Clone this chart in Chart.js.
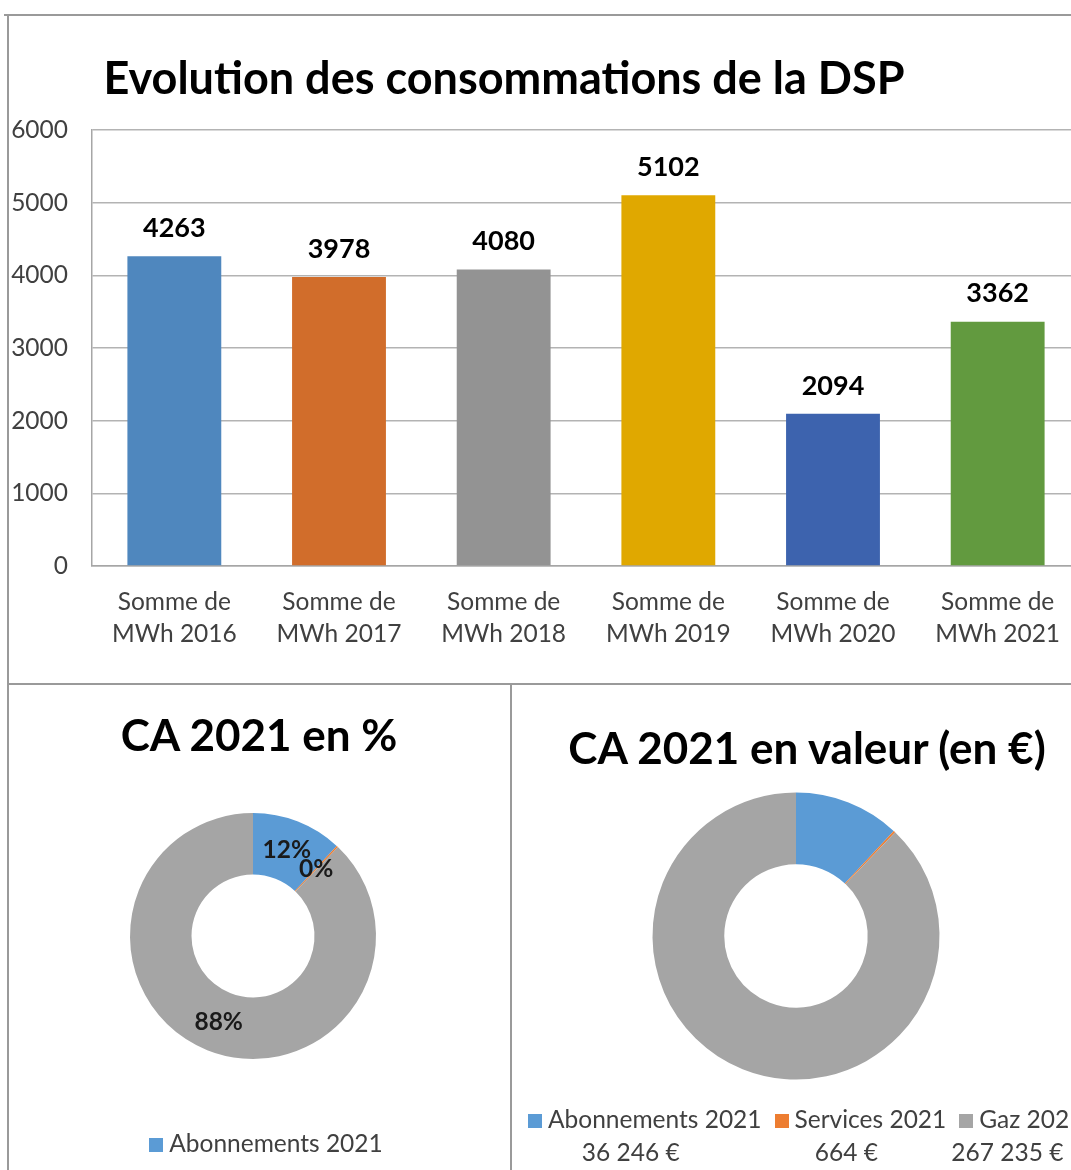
<!DOCTYPE html>
<html>
<head>
<meta charset="utf-8">
<script src="https://cdn.jsdelivr.net/npm/chart.js@4.4.0/dist/chart.umd.min.js"></script>
<style>
  body { margin: 0; background: #fff; }
  #page { position: relative; width: 1071px; height: 1170px; overflow: hidden; background: #fff; font-family: Lato, sans-serif; }
  .rule { position: absolute; background: #9a9a9a; }
  canvas { position: absolute; }
  .title { position: absolute; font-weight: bold; color: #000; text-align: center; line-height: 50px; height: 50px; white-space: nowrap; }
  .legend { position: absolute; color: #404040; font-size: 24.5px; line-height: 30px; }
  .legend .item { display: inline-block; text-align: center; margin-right: 13px; vertical-align: top; }
  .legend .sw { display: inline-block; width: 14px; height: 14px; margin-right: 6px; vertical-align: 0px; }
  .legend .val { display: block; margin-top: 3px; position: relative; left: -14px; }
  #legendPct div { margin-bottom: 30px; }
</style>
</head>
<body>
<div id="page">
  <div class="rule" style="left:4px;top:14px;width:1080px;height:2px"></div>
  <div class="rule" style="left:7px;top:14px;width:2px;height:1170px"></div>
  <div class="rule" style="left:7px;top:683px;width:1080px;height:2px"></div>
  <div class="rule" style="left:510px;top:683px;width:2px;height:500px"></div>

  <canvas id="bars" width="1090" height="669" style="left:8px;top:15px"></canvas>
  <canvas id="pct" width="503" height="485" style="left:8px;top:685px"></canvas>
  <canvas id="val" width="580" height="485" style="left:512px;top:685px"></canvas>

  <div class="title" id="titleBars" style="left:0;width:1008px;top:52px;font-size:45px"></div>
  <div class="title" id="titlePct" style="left:0;width:518px;top:709px;font-size:44px"></div>
  <div class="title" id="titleVal" style="left:507px;width:600px;top:722px;font-size:44px"></div>

  <div class="legend" id="legendPct" style="left:8px;top:1128px;width:503px;text-align:center;padding-left:13px;box-sizing:border-box"></div>
  <div class="legend" id="legendVal" style="left:528px;top:1104px;width:700px;white-space:nowrap"></div>
</div>

<script>
// consommations (MWh)
const years = ['2016', '2017', '2018', '2019', '2020', '2021'];
const consoMWh = [4263, 3978, 4080, 5102, 2094, 3362];
const barColors = ['#4f87be', '#d16d2b', '#939393', '#e0a800', '#3d63ae', '#629a3f'];

// chiffre d'affaires 2021 (€)
const caLabels = ['Abonnements 2021', 'Services 2021', 'Gaz 2021'];
const caValues = [36246, 664, 267235];
const caColors = ['#5b9bd5', '#ed7d31', '#a5a5a5'];

const titles = {
  bars: 'Evolution des consommations de la DSP',
  pct: 'CA 2021 en %',
  val: 'CA 2021 en valeur (en €)'
};

const FONT = 'Lato, sans-serif';
const caTotal = caValues.reduce((a, b) => a + b, 0);

function euros(n) {
  return String(n).replace(/\B(?=(\d{3})+(?!\d))/g, ' ') + ' €';
}

// small inline data label plugin
const valueLabels = {
  id: 'valueLabels',
  afterDatasetsDraw(chart, args, opts) {
    if (!opts.show) return;
    const ctx = chart.ctx;
    ctx.save();
    ctx.font = opts.font;
    ctx.fillStyle = opts.color;
    ctx.textAlign = 'center';
    ctx.textBaseline = 'middle';
    chart.data.datasets.forEach((ds, di) => {
      const meta = chart.getDatasetMeta(di);
      meta.data.forEach((el, i) => {
        const txt = opts.format(ds.data[i]);
        if (meta.type === 'bar') {
          ctx.fillText(txt, el.x, el.y - opts.offset);
        } else {
          const p = el.tooltipPosition();
          ctx.fillText(txt, p.x, p.y);
        }
      });
    });
    ctx.restore();
  }
};

new Chart(document.getElementById('bars'), {
  type: 'bar',
  data: {
    labels: years.map(y => ['Somme de', 'MWh ' + y]),
    datasets: [{
      data: consoMWh,
      backgroundColor: barColors,
      categoryPercentage: 1,
      barPercentage: 0.57
    }]
  },
  options: {
    responsive: false,
    animation: false,
    layout: { padding: { left: 0, right: 18, top: 115, bottom: 0 } },
    plugins: {
      legend: { display: false },
      tooltip: { enabled: false },
      valueLabels: {
        show: true,
        offset: 28,
        color: '#000',
        font: 'bold 27px ' + FONT,
        format: v => String(v)
      }
    },
    scales: {
      x: {
        grid: { display: false, drawTicks: false },
        border: { display: true, color: '#a6a6a6', width: 1.5 },
        ticks: { color: '#404040', padding: 20, font: { family: FONT, size: 24.5, lineHeight: 1.32 } },
        afterFit: s => { s.height = 118; }
      },
      y: {
        min: 0,
        max: 6000,
        ticks: { stepSize: 1000, color: '#404040', padding: 24, font: { family: FONT, size: 24.5 }, callback: v => String(v) },
        grid: { color: '#b3b3b3', lineWidth: 1.5, drawTicks: false },
        border: { display: true, color: '#a6a6a6', width: 1.5 },
        afterFit: s => { s.width = 84; }
      }
    }
  },
  plugins: [valueLabels]
});

function donut(id, pad, showLabels) {
  return new Chart(document.getElementById(id), {
    type: 'doughnut',
    data: {
      labels: caLabels,
      datasets: [{ data: caValues, backgroundColor: caColors, borderWidth: 0, hoverOffset: 0 }]
    },
    options: {
      responsive: false,
      animation: false,
      cutout: '50%',
      layout: { padding: pad },
      plugins: {
        legend: { display: false },
        tooltip: { enabled: false },
        valueLabels: {
          show: showLabels,
          color: '#1a1a1a',
          font: 'bold 24.5px ' + FONT,
          format: v => Math.round(v / caTotal * 100) + '%'
        }
      }
    },
    plugins: [valueLabels]
  });
}

donut('pct', { left: 122, right: 135, top: 128, bottom: 111 }, true);
donut('val', { left: 140.5, right: 152.5, top: 107.5, bottom: 90.5 }, false);

document.getElementById('titleBars').textContent = titles.bars;
document.getElementById('titlePct').textContent = titles.pct;
document.getElementById('titleVal').textContent = titles.val;

// legends
const legPct = document.getElementById('legendPct');
legPct.innerHTML = caLabels.map((l, i) =>
  `<div><span class="sw" style="background:${caColors[i]}"></span>${l}</div>`).join('');

const legVal = document.getElementById('legendVal');
legVal.innerHTML = caLabels.map((l, i) =>
  `<div class="item"><span class="sw" style="background:${caColors[i]}"></span>${l}<span class="val">${euros(caValues[i])}</span></div>`).join('');
</script>
</body>
</html>
